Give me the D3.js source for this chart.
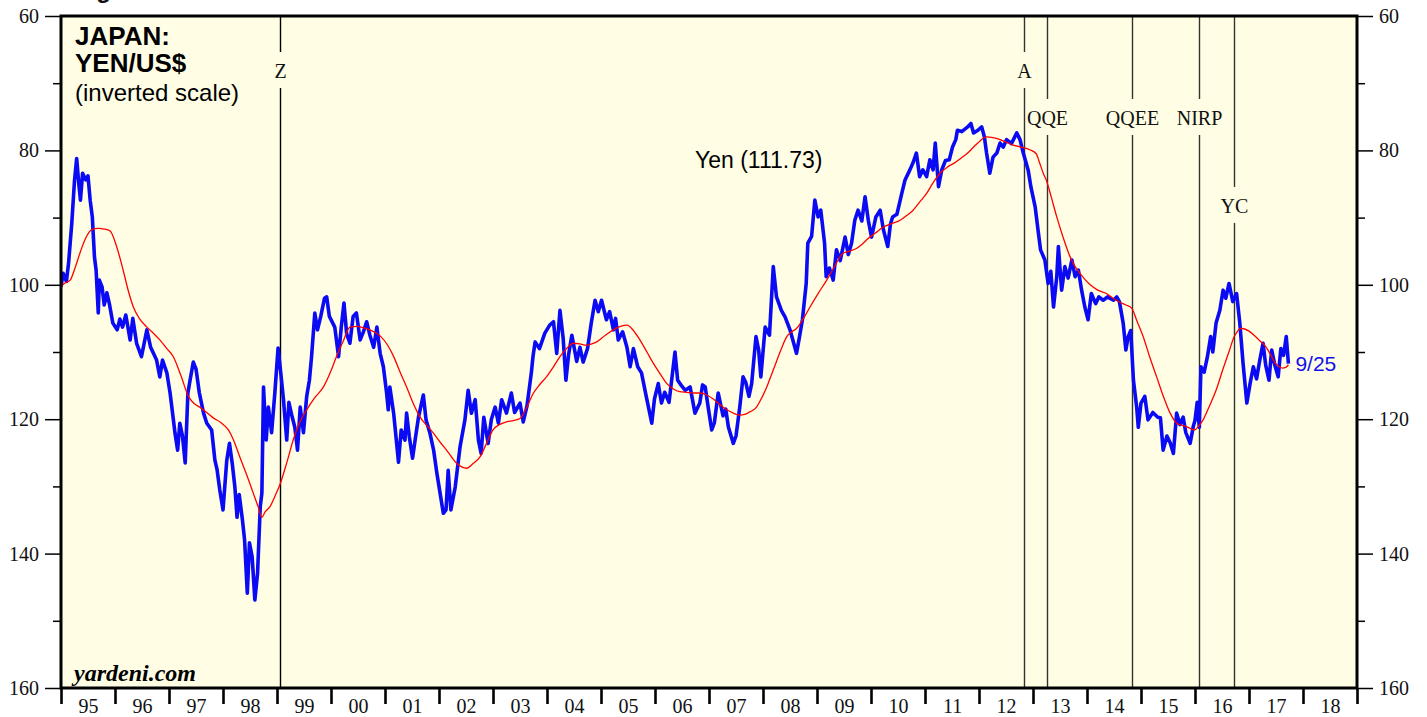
<!DOCTYPE html>
<html>
<head>
<meta charset="utf-8">
<script src="https://cdn.jsdelivr.net/npm/d3@7"></script>
<style>
  html, body { margin: 0; padding: 0; background: #ffffff; }
  svg { display: block; }
  .serif { font-family: "Liberation Serif", "Times New Roman", serif; }
  .sans { font-family: "Liberation Sans", Arial, Helvetica, sans-serif; }
</style>
</head>
<body>
<svg id="chart" width="1427" height="717"></svg>
<script>
// Weekly yen per dollar (decimal year, yen) and its 52-week moving average.
const yenYears = [
  1995.00,1995.04,1995.10,1995.14,1995.20,1995.25,1995.29,1995.33,1995.36,1995.40,1995.46,1995.50,1995.54,1995.58,1995.62,1995.65,1995.69,1995.71,1995.76,1995.80,1995.85,1995.90,1995.96,
  1996.04,1996.09,1996.14,1996.20,1996.28,1996.33,1996.40,1996.49,1996.59,1996.66,1996.77,1996.83,1996.88,1996.96,
  1997.02,1997.08,1997.11,1997.16,1997.20,1997.25,1997.30,1997.35,1997.39,1997.45,1997.50,1997.56,1997.64,1997.70,1997.79,1997.85,1997.89,1997.94,
  1998.00,1998.07,1998.12,1998.17,1998.22,1998.26,1998.30,1998.36,1998.40,1998.45,1998.49,1998.54,1998.59,1998.64,1998.69,1998.72,1998.75,1998.80,1998.84,1998.90,1998.96,
  1999.02,1999.07,1999.12,1999.18,1999.22,1999.27,1999.33,1999.38,1999.43,1999.49,1999.55,1999.60,1999.64,1999.70,1999.75,1999.81,1999.88,1999.92,1999.97,
  2000.07,2000.14,2000.19,2000.24,2000.29,2000.35,2000.41,2000.47,2000.54,2000.60,2000.66,2000.72,2000.79,2000.85,2000.91,2000.97,
  2001.03,2001.06,2001.09,2001.16,2001.25,2001.30,2001.37,2001.40,2001.45,2001.51,2001.56,2001.62,2001.71,2001.76,2001.83,2001.90,2001.96,
  2002.02,2002.08,2002.13,2002.17,2002.22,2002.30,2002.39,2002.48,2002.54,2002.60,2002.67,2002.73,2002.78,2002.83,2002.91,2002.97,
  2003.04,2003.10,2003.16,2003.25,2003.34,2003.40,2003.50,2003.56,2003.63,2003.71,2003.74,2003.78,2003.86,2003.96,
  2004.05,2004.12,2004.18,2004.24,2004.30,2004.35,2004.40,2004.46,2004.55,2004.61,2004.67,2004.75,2004.82,2004.89,2004.95,
  2005.01,2005.10,2005.16,2005.23,2005.27,2005.32,2005.40,2005.48,2005.54,2005.60,2005.68,2005.75,2005.85,2005.94,2005.99,
  2006.06,2006.12,2006.18,2006.26,2006.37,2006.42,2006.49,2006.56,2006.65,2006.74,2006.83,2006.88,2006.93,2006.99,
  2007.05,2007.10,2007.17,2007.26,2007.31,2007.36,2007.45,2007.50,2007.57,2007.63,2007.68,2007.74,2007.79,2007.87,2007.92,2007.96,
  2008.04,2008.12,2008.19,2008.25,2008.34,2008.41,2008.50,2008.62,2008.67,2008.73,2008.80,2008.83,2008.90,2008.96,
  2009.02,2009.07,2009.14,2009.17,2009.23,2009.30,2009.36,2009.43,2009.52,2009.58,2009.64,2009.70,2009.76,2009.83,2009.89,2009.95,
  2010.01,2010.09,2010.17,2010.23,2010.31,2010.36,2010.40,2010.48,2010.57,2010.63,2010.72,2010.78,2010.84,2010.90,2010.96,
  2011.03,2011.09,2011.15,2011.19,2011.25,2011.31,2011.38,2011.45,2011.51,2011.57,2011.60,2011.68,2011.79,2011.85,2011.90,2011.98,
  2012.05,2012.10,2012.14,2012.20,2012.26,2012.33,2012.39,2012.45,2012.51,2012.60,2012.70,2012.76,2012.82,2012.91,2012.96,
  2013.04,2013.10,2013.14,2013.22,2013.28,2013.33,2013.38,2013.44,2013.47,2013.53,2013.59,2013.65,2013.72,2013.78,2013.84,2013.90,2013.96,
  2014.02,2014.08,2014.16,2014.22,2014.30,2014.38,2014.49,2014.55,2014.60,2014.67,2014.72,2014.76,2014.81,2014.86,2014.92,2014.95,
  2015.00,2015.07,2015.13,2015.22,2015.31,2015.36,2015.41,2015.48,2015.54,2015.60,2015.66,2015.72,2015.78,2015.83,2015.91,2015.97,
  2016.00,2016.04,2016.08,2016.11,2016.17,2016.23,2016.29,2016.33,2016.39,2016.46,2016.52,2016.57,2016.63,2016.70,2016.77,2016.83,2016.89,2016.96,
  2017.02,2017.08,2017.14,2017.20,2017.26,2017.31,2017.37,2017.42,2017.48,2017.54,2017.59,2017.64,2017.69,2017.73
];
const yenValues = [
  100.3,98.3,99.5,96.8,90.8,84.5,81.2,85.0,87.4,83.4,84.4,83.8,87.4,89.9,95.9,97.8,104.2,99.3,100.3,103.0,101.2,103.0,105.7,
  106.7,105.1,106.3,104.5,108.2,105.0,108.7,110.7,106.7,109.3,111.2,113.7,111.2,113.1,
  116.1,120.0,122.0,124.6,120.6,122.5,126.5,116.1,114.2,111.5,112.5,116.0,119.1,120.6,121.6,126.1,127.5,130.5,
  133.5,126.1,123.6,126.5,130.1,134.6,131.2,135.0,138.0,145.9,138.4,140.5,146.9,142.9,133.0,131.0,115.2,123.1,118.2,122.0,116.1,
  109.4,113.1,117.1,123.1,117.5,119.3,121.2,124.6,118.2,122.0,116.6,114.2,110.7,104.2,106.7,104.7,102.0,101.8,104.7,
  106.3,110.7,106.3,102.7,107.3,108.7,104.7,104.2,108.2,107.0,105.5,107.5,109.3,106.3,110.2,112.2,
  116.1,118.6,115.2,119.1,126.4,121.6,123.1,119.1,122.6,125.8,123.0,119.7,116.4,120.1,122.0,124.6,128.0,
  131.0,134.0,133.5,127.6,133.5,130.1,124.1,120.1,115.7,119.1,117.1,123.1,125.1,119.7,123.6,120.0,
  118.2,120.6,117.1,119.1,116.1,119.0,117.6,120.4,118.0,113.1,110.7,108.5,109.5,107.2,
  106.0,105.5,110.2,103.8,108.0,114.2,110.4,107.5,111.4,109.3,111.5,109.5,105.7,102.3,104.0,
  102.3,105.2,104.0,106.7,105.0,108.2,107.0,109.3,112.2,109.5,112.2,113.1,117.1,120.6,117.0,
  114.7,117.6,116.0,117.5,110.0,114.2,115.0,115.7,115.2,119.1,117.6,114.9,115.2,118.5,
  121.6,120.5,116.1,119.5,118.5,121.2,123.6,122.5,118.2,113.7,114.5,116.6,114.7,107.7,109.7,113.7,
  106.3,107.5,97.3,101.8,103.8,104.8,106.7,110.2,108.0,105.2,99.8,93.8,92.8,87.4,
  89.9,88.9,93.8,98.8,97.5,99.3,94.8,96.4,92.9,95.5,93.8,90.4,88.9,90.5,86.9,90.4,
  92.9,89.9,88.9,91.8,94.3,91.0,89.9,89.5,86.4,84.4,82.9,81.8,80.4,83.9,82.9,
  83.9,81.4,82.9,78.9,85.4,82.9,81.5,81.4,79.5,78.4,77.0,77.2,76.5,76.0,77.4,77.0,
  76.5,78.0,80.4,83.4,81.0,80.4,78.9,79.5,78.4,79.0,77.4,78.4,80.4,82.9,85.4,
  88.4,92.3,94.8,96.3,99.8,98.0,103.3,98.8,94.3,100.8,97.3,99.0,96.3,98.8,97.8,100.8,103.3,
  105.2,101.3,102.8,101.8,102.3,101.8,102.3,101.8,102.5,105.7,109.7,107.8,106.8,114.2,118.2,121.2,
  117.6,116.6,120.1,119.0,119.7,119.8,124.6,122.5,123.5,125.1,119.1,120.8,119.7,122.0,123.6,121.0,
  120.2,117.5,121.2,112.2,113.0,110.7,107.7,110.0,105.7,103.8,100.8,102.0,99.8,102.5,101.3,105.7,111.7,117.6,
  114.7,112.2,114.0,111.2,108.7,112.0,114.2,109.7,112.0,113.7,109.5,110.5,107.7,111.73
];

const maYears = [
  1995.00,1995.06,1995.17,1995.26,1995.35,1995.46,1995.57,1995.69,1995.80,1995.91,
  1996.03,1996.15,1996.25,1996.34,1996.45,1996.59,1996.71,1996.83,1996.96,
  1997.08,1997.22,1997.36,1997.47,1997.57,1997.70,1997.82,1997.96,
  1998.10,1998.20,1998.31,1998.44,1998.56,1998.65,1998.72,1998.78,1998.87,1998.96,
  1999.06,1999.18,1999.30,1999.42,1999.55,1999.70,1999.86,
  2000.00,2000.10,2000.22,2000.35,2000.48,2000.60,2000.72,2000.91,
  2001.05,2001.15,2001.28,2001.40,2001.52,2001.65,2001.78,2001.90,
  2002.02,2002.14,2002.24,2002.33,2002.42,2002.51,2002.63,2002.76,2002.88,
  2003.00,2003.12,2003.25,2003.38,2003.50,2003.62,2003.75,2003.87,2003.99,
  2004.12,2004.24,2004.36,2004.49,2004.61,2004.73,2004.83,2004.92,
  2005.08,2005.23,2005.36,2005.48,2005.60,2005.72,2005.85,2005.97,
  2006.10,2006.22,2006.34,2006.46,2006.58,2006.71,2006.83,2006.96,
  2007.08,2007.20,2007.33,2007.45,2007.57,2007.66,2007.76,2007.88,2007.99,
  2008.07,2008.16,2008.25,2008.34,2008.44,2008.53,2008.62,2008.75,2008.87,
  2009.02,2009.18,2009.33,2009.48,2009.60,2009.73,2009.83,2009.92,
  2010.08,2010.23,2010.38,2010.54,2010.66,2010.78,2010.90,
  2011.03,2011.15,2011.28,2011.41,2011.54,2011.66,2011.79,2011.90,2011.98,
  2012.06,2012.13,2012.26,2012.39,2012.51,2012.63,2012.78,2012.94,
  2013.06,2013.12,2013.19,2013.25,2013.34,2013.44,2013.56,2013.69,2013.78,2013.87,2013.96,
  2014.06,2014.20,2014.36,2014.48,2014.61,2014.72,2014.83,2014.93,
  2015.04,2015.16,2015.29,2015.41,2015.54,2015.66,2015.75,2015.84,2015.92,2015.99,
  2016.07,2016.15,2016.27,2016.39,2016.52,2016.64,2016.72,2016.78,2016.84,2016.88,
  2017.00,2017.12,2017.21,2017.31,2017.40,2017.49,2017.56,2017.62,2017.68,2017.73
];
const maValues = [
  100.3,99.8,99.3,97.5,95.3,93.0,91.8,91.6,91.7,92.0,
  94.3,97.8,101.0,103.3,105.0,106.3,107.2,108.2,109.5,
  110.7,113.5,116.6,117.7,118.2,119.0,119.8,120.5,
  121.6,123.2,125.6,128.3,131.0,133.0,134.6,133.8,133.0,131.5,
  129.6,126.5,123.1,120.5,118.6,116.8,115.2,
  112.8,110.7,108.5,106.3,106.2,106.4,106.7,107.6,
  109.0,110.5,113.0,115.2,117.6,119.7,121.0,122.1,
  123.4,124.6,125.7,126.6,127.1,127.3,126.6,125.6,123.6,
  121.6,120.8,120.4,120.2,119.9,118.3,116.1,114.8,113.7,
  112.2,110.7,109.5,108.7,108.8,109.0,108.8,108.5,
  107.5,106.7,106.2,106.0,106.8,108.2,110.0,111.7,
  113.3,114.7,115.5,115.9,116.0,116.1,116.1,116.4,
  117.0,117.8,118.6,119.1,119.4,119.3,118.9,118.2,116.6,
  115.2,113.3,111.4,109.5,107.7,107.0,106.5,105.0,103.3,
  101.3,99.3,97.2,95.3,95.0,94.6,94.0,93.3,
  92.3,91.4,90.9,90.4,89.7,88.9,87.7,
  86.4,84.8,83.4,82.5,81.9,81.2,80.4,79.5,78.9,
  78.3,78.0,78.1,78.4,78.8,79.2,79.5,79.9,
  80.5,81.8,83.4,84.5,87.0,89.9,93.0,95.9,97.3,98.3,99.2,
  100.0,100.8,101.3,102.0,102.6,103.0,103.5,105.5,
  107.7,110.7,113.7,116.5,119.1,120.6,120.9,121.1,121.4,121.6,
  121.0,120.1,118.0,115.7,112.5,109.7,107.8,107.0,106.5,106.5,
  106.9,107.7,108.4,109.2,110.4,111.7,112.2,112.4,112.3,111.9
];

// Axis ticks and labels
const yearBounds = [1995,1996,1997,1998,1999,2000,2001,2002,2003,2004,2005,2006,2007,2008,2009,2010,2011,2012,2013,2014,2015,2016,2017,2018,2019];
const yearLabels = ["95","96","97","98","99","00","01","02","03","04","05","06","07","08","09","10","11","12","13","14","15","16","17","18"];
const yMajorTicks = [60, 80, 100, 120, 140, 160];
const yMinorTicks = [70, 90, 110, 130, 150];

// Policy events: zero rates, Abenomics, QQE, QQE expansion, negative rates, yield-curve control
const eventNames = ["Z", "A", "QQE", "QQEE", "NIRP", "YC"];
const eventDates = [1999.06, 2012.83, 2013.26, 2014.83, 2016.08, 2016.72];

const lastLabel = "9/25";
const latestValue = "111.73";

// ---- layout ----
const W = 1427, H = 717;
const M = { left: 61, right: 1357, top: 16, bottom: 688 };
const eventLabelY = { "Z": 71, "A": 71, "QQE": 118, "QQEE": 118, "NIRP": 118, "YC": 206 };

const svg = d3.select("#chart");

const x = d3.scaleLinear().domain([1995, 2019]).range([M.left, M.right]);
const y = d3.scaleLinear().domain([60, 160]).range([M.top, M.bottom]);

// plot background
svg.append("rect")
  .attr("x", M.left).attr("y", M.top)
  .attr("width", M.right - M.left).attr("height", M.bottom - M.top)
  .attr("fill", "#fffee4");

svg.append("defs").append("clipPath").attr("id", "plotClip")
  .append("rect")
  .attr("x", M.left).attr("y", M.top)
  .attr("width", M.right - M.left).attr("height", M.bottom - M.top);

// event lines with a gap for each label
const ev = svg.append("g");
eventNames.forEach((name, i) => {
  const ex = Math.round(x(eventDates[i])) + 0.5;
  const ly = eventLabelY[name];
  const col = name === "Z" ? "#000" : "#333";
  ev.append("line").attr("x1", ex).attr("x2", ex)
    .attr("y1", M.top).attr("y2", ly - 19)
    .attr("stroke", col).attr("stroke-width", 1.4);
  ev.append("line").attr("x1", ex).attr("x2", ex)
    .attr("y1", ly + 17).attr("y2", M.bottom)
    .attr("stroke", col).attr("stroke-width", 1.4);
  ev.append("text").attr("class", "serif")
    .attr("x", ex).attr("y", ly + 7)
    .attr("text-anchor", "middle")
    .attr("font-size", 20).attr("fill", "#111")
    .text(name);
});

// series
const yenData = yenYears.map((t, i) => [t, yenValues[i]]);
const maData = maYears.map((t, i) => [t, maValues[i]]);

const plot = svg.append("g").attr("clip-path", "url(#plotClip)");

plot.append("path")
  .datum(yenData)
  .attr("fill", "none")
  .attr("stroke", "#0a0af5")
  .attr("stroke-width", 3.6)
  .attr("stroke-linejoin", "round")
  .attr("d", d3.line().x(d => x(d[0])).y(d => y(d[1])));

plot.append("path")
  .datum(maData)
  .attr("fill", "none")
  .attr("stroke", "#ff0000")
  .attr("stroke-width", 1.3)
  .attr("d", d3.line().curve(d3.curveMonotoneX).x(d => x(d[0])).y(d => y(d[1])));

// axes
function styleAxis(g, width) {
  g.select(".domain").remove();
  g.selectAll(".tick line").attr("stroke", "#000").attr("stroke-width", width);
  g.selectAll("text").attr("class", "serif").attr("font-size", 20).attr("fill", "#111");
}

svg.append("g").attr("transform", `translate(${M.left},0)`)
  .call(d3.axisLeft(y).tickValues(yMajorTicks).tickSize(16).tickPadding(6).tickFormat(d3.format("d")))
  .call(g => styleAxis(g, 1.5));
svg.append("g").attr("transform", `translate(${M.left},0)`)
  .call(d3.axisLeft(y).tickValues(yMinorTicks).tickSize(8).tickFormat(""))
  .call(g => styleAxis(g, 1.5));
svg.append("g").attr("transform", `translate(${M.right},0)`)
  .call(d3.axisRight(y).tickValues(yMajorTicks).tickSize(16).tickPadding(6).tickFormat(d3.format("d")))
  .call(g => styleAxis(g, 1.5));
svg.append("g").attr("transform", `translate(${M.right},0)`)
  .call(d3.axisRight(y).tickValues(yMinorTicks).tickSize(8).tickFormat(""))
  .call(g => styleAxis(g, 1.5));

svg.append("g").attr("transform", `translate(0,${M.bottom})`)
  .call(d3.axisBottom(x).tickValues(yearBounds).tickSize(16).tickFormat(""))
  .call(g => styleAxis(g, 2.6));
svg.append("g").attr("transform", `translate(0,${M.bottom})`)
  .call(d3.axisBottom(x).tickValues(yearBounds.slice(0, -1).map(v => v + 0.5))
    .tickSize(0).tickPadding(11).tickFormat((d, i) => yearLabels[i]))
  .call(g => styleAxis(g, 0));

// frame
svg.append("rect")
  .attr("x", M.left).attr("y", M.top)
  .attr("width", M.right - M.left).attr("height", M.bottom - M.top)
  .attr("fill", "none").attr("stroke", "#000").attr("stroke-width", 3);

// titles and notes
svg.append("text").attr("class", "sans").attr("x", 75).attr("y", -2)
  .attr("font-size", 24).attr("font-weight", "bold").attr("fill", "#111")
  .text("Figure 1.");

const title = svg.append("g").attr("class", "sans").attr("fill", "#000");
title.append("text").attr("x", 75).attr("y", 45)
  .attr("font-size", 26).attr("font-weight", "bold").text("JAPAN:");
title.append("text").attr("x", 75).attr("y", 72)
  .attr("font-size", 26).attr("font-weight", "bold").text("YEN/US$");
title.append("text").attr("x", 75).attr("y", 101)
  .attr("font-size", 24).text("(inverted scale)");

svg.append("text").attr("class", "sans").attr("x", 695).attr("y", 168)
  .attr("font-size", 23).attr("fill", "#000")
  .text(`Yen (${latestValue})`);

svg.append("text").attr("class", "sans")
  .attr("x", x(yenYears[yenYears.length - 1]) + 7).attr("y", 371)
  .attr("font-size", 21).attr("fill", "#1010f0")
  .text(lastLabel);

svg.append("text").attr("class", "serif").attr("x", 74).attr("y", 681)
  .attr("font-size", 24).attr("font-weight", "bold").attr("font-style", "italic")
  .attr("fill", "#000")
  .text("yardeni.com");
</script>
</body>
</html>
